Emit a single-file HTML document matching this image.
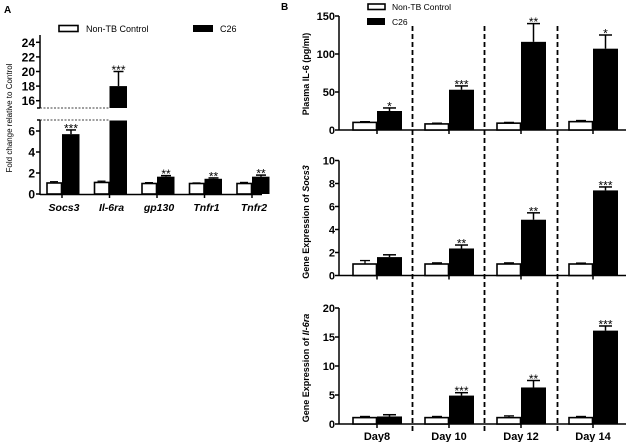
<!DOCTYPE html>
<html><head><meta charset="utf-8"><style>
html,body{margin:0;padding:0;background:#fff}
svg{display:block;font-family:"Liberation Sans",Arial,sans-serif}
</style></head><body>
<svg id="c" width="630" height="442" viewBox="0 0 630 442"></svg>
<script>
// Panel A data
const genes = ["Socs3","Il-6ra","gp130","Tnfr1","Tnfr2"];
const aCtrl = [1.05,1.1,1.0,1.0,1.0];
const aCtrlErr = [0.12,0.12,0.08,0.05,0.1];
const aC26 = [5.7,18,1.65,1.45,1.65];
const aC26Err = [0.4,2,0.1,0.08,0.15];
const aStars = ["***","***","**","**","**"];
const aLowTicks = [0,2,4,6];
const aHighTicks = [16,18,20,22,24];
// Panel B data
const days = ["Day8","Day 10","Day 12","Day 14"];
const il6Ctrl = [10,8,9,11];
const il6CtrlErr = [1,1,1,1.5];
const il6C26 = [25,53,116,107];
const il6C26Err = [4,5,24,18];
const il6Stars = ["*","***","**","*"];
const socsCtrl = [1.0,1.0,1.0,1.0];
const socsCtrlErr = [0.3,0.1,0.1,0.08];
const socsC26 = [1.6,2.35,4.85,7.4];
const socsC26Err = [0.2,0.3,0.6,0.3];
const socsStars = ["","**","**","***"];
const il6raCtrl = [1.1,1.1,1.1,1.1];
const il6raCtrlErr = [0.2,0.2,0.3,0.2];
const il6raC26 = [1.3,4.9,6.3,16.1];
const il6raC26Err = [0.3,0.5,1.2,0.8];
const il6raStars = ["","***","**","***"];
const il6Ticks = [0,50,100,150];
const socsTicks = [0,2,4,6,8,10];
const il6raTicks = [0,5,10,15,20];

const NS="http://www.w3.org/2000/svg";
const svg=document.getElementById('c');
function el(tag,attrs,parent,text){const e=document.createElementNS(NS,tag);for(const k in attrs)e.setAttribute(k,attrs[k]);if(text!==undefined)e.textContent=text;(parent||svg).appendChild(e);return e;}

// ---------- Panel A ----------
const gA=el('g',{});


let t=el('text',{x:4,y:13,'font-size':10,'font-weight':'bold'},gA,'A');

let lg=el('g',{},gA);

el('rect',{x:59,y:25.5,width:19,height:6,fill:'#fff',stroke:'#000','stroke-width':1.6},lg);
el('text',{x:86,y:32,'font-size':9},lg,'Non-TB Control');
el('rect',{x:193,y:25,width:20,height:7,fill:'#000'},lg);
el('text',{x:220,y:32,'font-size':9},lg,'C26');
const axX=40;
const yLow=v=>194-v*10.5;
const yHigh=v=>108-(v-15)*7.3;
const yA=v=>v<=7?yLow(v):yHigh(v);
el('line',{x1:axX,y1:120,x2:axX,y2:195,stroke:'#000','stroke-width':1.5},gA);
el('line',{x1:axX,y1:35,x2:axX,y2:108,stroke:'#000','stroke-width':1.5},gA);
el('line',{x1:axX,y1:194.5,x2:262,y2:194.5,stroke:'#000','stroke-width':1.5},gA);
el('line',{x1:axX,y1:120,x2:110,y2:120,stroke:'#000','stroke-width':0.7,'stroke-dasharray':'2,1.5'},gA);
el('line',{x1:axX,y1:108,x2:110,y2:108,stroke:'#000','stroke-width':0.7,'stroke-dasharray':'2,1.5'},gA);
el('line',{x1:axX-3,y1:120,x2:axX,y2:120,stroke:'#000','stroke-width':1.5},gA);
el('line',{x1:axX-3,y1:108,x2:axX,y2:108,stroke:'#000','stroke-width':1.5},gA);
aLowTicks.forEach(v=>{el('line',{x1:axX-4,y1:yLow(v),x2:axX,y2:yLow(v),stroke:'#000','stroke-width':1.5},gA);
 el('text',{x:axX-5,y:yLow(v)+4.5,'font-size':12,'font-weight':'bold','text-anchor':'end'},gA,String(v));});
aHighTicks.forEach(v=>{el('line',{x1:axX-4,y1:yHigh(v),x2:axX,y2:yHigh(v),stroke:'#000','stroke-width':1.5},gA);
 el('text',{x:axX-5,y:yHigh(v)+4.5,'font-size':12,'font-weight':'bold','text-anchor':'end'},gA,String(v));});
t=el('text',{x:0,y:0,'font-size':8,'text-anchor':'middle',transform:'translate(12,118) rotate(-90)'},gA,'Fold change relative to Control');

const aCx=i=>62+i*47.5;
genes.forEach((g,i)=>{
  const c=aCx(i);
  el('line',{x1:c,y1:194,x2:c,y2:198,stroke:'#000','stroke-width':1.5},gA);
  let b=el('rect',{x:c-15,y:yA(aCtrl[i]),width:14.5,height:194-yA(aCtrl[i]),fill:'#fff',stroke:'#000','stroke-width':1.6},gA);
  
  el('line',{x1:c-8,y1:yA(aCtrl[i]),x2:c-8,y2:yA(aCtrl[i]+aCtrlErr[i]),stroke:'#000','stroke-width':1.3},gA);
  el('line',{x1:c-12,y1:yA(aCtrl[i]+aCtrlErr[i]),x2:c-4,y2:yA(aCtrl[i]+aCtrlErr[i]),stroke:'#000','stroke-width':1.3},gA);
  const v=aC26[i];
  if(v>7){
   let b1=el('rect',{x:c,y:yLow(7),width:17.5,height:194-yLow(7),fill:'#000'},gA);
   
   let b2=el('rect',{x:c,y:yHigh(v),width:17.5,height:108-yHigh(v),fill:'#000'},gA);
   
  } else {
   let b1=el('rect',{x:c,y:yA(v),width:17.5,height:194-yA(v),fill:'#000'},gA);
   
  }
  const ye=yA(v+aC26Err[i]);
  el('line',{x1:c+9,y1:yA(v),x2:c+9,y2:ye,stroke:'#000','stroke-width':1.5},gA);
  el('line',{x1:c+4,y1:ye,x2:c+14,y2:ye,stroke:'#000','stroke-width':1.5},gA);
  el('text',{x:c+9,y:ye+2.5,'font-size':12,'text-anchor':'middle','letter-spacing':'0'},gA,aStars[i]);
  let l=el('text',{x:c+2,y:211,'font-size':10.5,'font-weight':'bold','font-style':'italic','text-anchor':'middle'},gA,g);
  
});

// ---------- Panel B ----------
const gB=el('g',{});


t=el('text',{x:281,y:10,'font-size':10,'font-weight':'bold'},gB,'B');

lg=el('g',{},gB);

el('rect',{x:368,y:4,width:17,height:5.5,fill:'#fff',stroke:'#000','stroke-width':1.6},lg);
el('text',{x:392,y:10,'font-size':8.5},lg,'Non-TB Control');
el('rect',{x:367,y:18,width:18,height:7,fill:'#000'},lg);
el('text',{x:392,y:25,'font-size':8.5},lg,'C26');
const bX=339;
const bCx=i=>377+i*72;
[412.5,484.5,557.5].forEach(x=>el('line',{x1:x,y1:26,x2:x,y2:432,stroke:'#000','stroke-width':1.8,'stroke-dasharray':'5,3'},gB));
function panel(name,y0,y1,max,ticks,ctrl,ctrlErr,c26,c26Err,stars,title,titleItal,titleY){
 const sy=v=>y0-(v/max)*(y0-y1);
 const g=el('g',{},gB);
 
 el('line',{x1:bX,y1:y1,x2:bX,y2:y0+0.5,stroke:'#000','stroke-width':1.5},g);
 el('line',{x1:bX,y1:y0,x2:626,y2:y0,stroke:'#000','stroke-width':1.5},g);
 ticks.forEach(v=>{el('line',{x1:bX-4,y1:sy(v),x2:bX,y2:sy(v),stroke:'#000','stroke-width':1.5},g);
  el('text',{x:bX-4,y:sy(v)+4,'font-size':11,'font-weight':'bold','text-anchor':'end'},g,String(v));});
 const tt=el('text',{x:0,y:0,'font-size':9,'font-weight':'bold','text-anchor':'middle',transform:`translate(309,${titleY}) rotate(-90)`},g,title);
 if(titleItal){el('tspan',{'font-style':'italic'},tt,titleItal);}
 
 days.forEach((d,i)=>{
  const c=bCx(i);
  el('line',{x1:c,y1:y0,x2:c,y2:y0+4,stroke:'#000','stroke-width':1.5},g);
  let b=el('rect',{x:c-24,y:sy(ctrl[i]),width:23.5,height:y0-sy(ctrl[i]),fill:'#fff',stroke:'#000','stroke-width':1.6},g);
  
  const ce=sy(ctrl[i]+ctrlErr[i]);
  el('line',{x1:c-12,y1:sy(ctrl[i]),x2:c-12,y2:ce,stroke:'#000','stroke-width':1.3},g);
  el('line',{x1:c-17,y1:ce,x2:c-7,y2:ce,stroke:'#000','stroke-width':1.3},g);
  b=el('rect',{x:c,y:sy(c26[i]),width:25,height:y0-sy(c26[i]),fill:'#000'},g);
  
  const ye=sy(c26[i]+c26Err[i]);
  el('line',{x1:c+12.5,y1:sy(c26[i]),x2:c+12.5,y2:ye,stroke:'#000','stroke-width':1.5},g);
  el('line',{x1:c+6,y1:ye,x2:c+19,y2:ye,stroke:'#000','stroke-width':1.5},g);
  if(stars[i])el('text',{x:c+12.5,y:ye+2.5,'font-size':12,'text-anchor':'middle'},g,stars[i]);
 });
 return sy;
}
panel('il6-panel',130,16,150,il6Ticks,il6Ctrl,il6CtrlErr,il6C26,il6C26Err,il6Stars,'Plasma IL-6 (pg/ml)','',74);
panel('socs3-panel',275.5,160.5,10,socsTicks,socsCtrl,socsCtrlErr,socsC26,socsC26Err,socsStars,'Gene Expression of ','Socs3',222);
panel('il6ra-panel',424,308,20,il6raTicks,il6raCtrl,il6raCtrlErr,il6raC26,il6raC26Err,il6raStars,'Gene Expression of ','Il-6ra',368);
days.forEach((d,i)=>{
 const l=el('text',{x:bCx(i),y:440,'font-size':11,'font-weight':'bold','text-anchor':'middle'},gB,d);
 
 
});
</script>
</body></html>
